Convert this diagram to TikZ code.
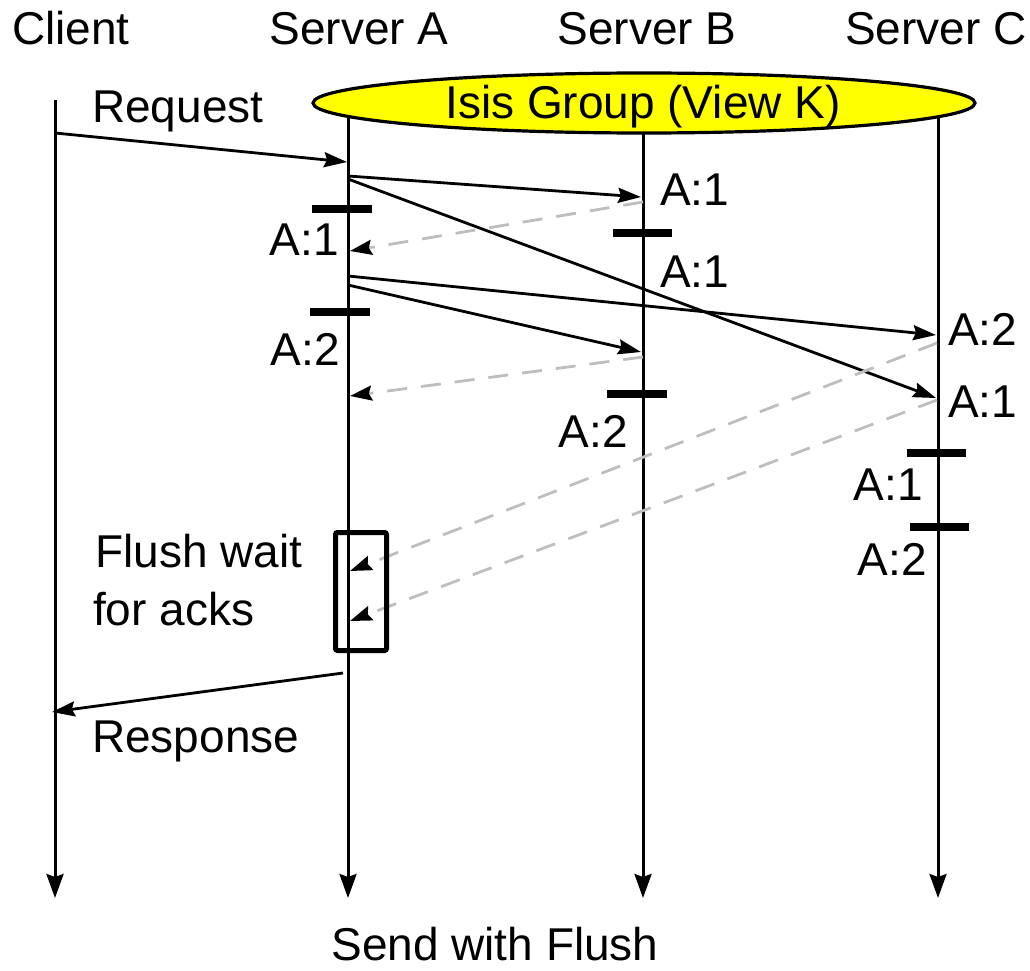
\documentclass[tikz,border=0pt]{standalone}
\usepackage{fontspec}
\setmainfont{Liberation Sans}
\usetikzlibrary{arrows.meta,shapes.geometric}
\definecolor{ackgray}{RGB}{190,190,190}
\definecolor{grpyellow}{RGB}{255,255,0}
\begin{document}
\begin{tikzpicture}[x=1pt,y=-1pt,
  lbl/.style={inner sep=0pt,font=\fontsize{46pt}{55pt}\selectfont},
  life/.style={line width=3pt,-{Stealth[length=24pt,width=17pt,inset=3pt]}},
  msg/.style={line width=2.8pt,-{Stealth[length=23pt,width=15pt,inset=3pt]}},
  ack/.style={line width=2.8pt,draw=ackgray,dash pattern=on 20pt off 14pt,
              -{Stealth[length=22pt,width=15pt,inset=3pt,color=black]}},
  tick/.style={line width=8pt},
  flushbox/.style={draw,line width=5pt,rounded corners=2pt,inner sep=0pt,
                   minimum width=51pt,minimum height=118pt}]
\useasboundingbox (0,0) rectangle (1030,971);

% headers
\node[lbl,anchor=base] (client) at (71,45) {Client};
\node[lbl,anchor=base] (sA) at (359,45) {Server A};
\node[lbl,anchor=base] (sB) at (647,45) {Server B};
\node[lbl,anchor=base] (sC) at (936,45) {Server C};

% lifelines
\coordinate (cT) at (55,100);  \coordinate (cE) at (55,898);
\coordinate (aT) at (348,103); \coordinate (aE) at (348,898);
\coordinate (bT) at (643,103); \coordinate (bE) at (643,898);
\coordinate (dT) at (938,103); \coordinate (dE) at (938,898);
\draw[life] (cT) -- (cE);
\draw[life] (aT) -- (aE);
\draw[life] (bT) -- (bE);
\draw[life] (dT) -- (dE);

% group ellipse
\node[ellipse,draw,fill=grpyellow,line width=3.2pt,inner sep=0pt,
      minimum width=662pt,minimum height=60pt] (grp) at (644,103) {};
\node[lbl,anchor=base] (grpl) at (643,118) {Isis Group (View K)};

% event points
\coordinate (req0) at (55,133);   \coordinate (req1) at (347,162);
\coordinate (a1s) at (348,176);   \coordinate (a1b) at (641,197);
\coordinate (a1s2) at (348,179);  \coordinate (a1c) at (936,398);
\coordinate (a2s) at (348,276);   \coordinate (a2c) at (936,335);
\coordinate (a2s2) at (348,285);  \coordinate (a2b) at (641,352);
\coordinate (res0) at (343,673);  \coordinate (res1) at (52,712);

% messages
\draw[msg] (req0) -- (req1);
\node[lbl,anchor=base west] (reql) at (92,123) {Request};
\draw[msg] (a1s) -- (a1b);
\draw[msg] (a1s2) -- (a1c);
\draw[msg] (a2s) -- (a2c);
\draw[msg] (a2s2) -- (a2b);

% acks
\coordinate (kb1) at (643,202); \coordinate (ka1) at (350,251);
\coordinate (kb2) at (643,357); \coordinate (ka2) at (350,396);
\coordinate (kc1) at (937,343); \coordinate (ka3) at (350,571);
\coordinate (kc2) at (937,400); \coordinate (ka4) at (350,621);
\draw[ack] (kb1) -- (ka1);
\draw[ack] (kb2) -- (ka2);
\draw[ack] (kc1) -- (ka3);
\draw[ack] (kc2) -- (ka4);

% delivery ticks
\draw[tick] (312,209) -- (372,209);
\draw[tick] (310,312) -- (370,312);
\draw[tick] (613,233) -- (672,233);
\draw[tick] (607,394) -- (667,394);
\draw[tick] (907,453) -- (966,453);
\draw[tick] (910,527) -- (969,527);

% labels
\node[lbl,anchor=base east] (la1) at (339,255) {A:1};
\node[lbl,anchor=base east] (la2) at (340,365) {A:2};
\node[lbl,anchor=base west] (lb1) at (660,205) {A:1};
\node[lbl,anchor=base west] (lb2) at (660,287) {A:1};
\node[lbl,anchor=base east] (lb3) at (628,447) {A:2};
\node[lbl,anchor=base west] (lc1) at (948,345) {A:2};
\node[lbl,anchor=base west] (lc2) at (948,417) {A:1};
\node[lbl,anchor=base east] (lc3) at (923,500) {A:1};
\node[lbl,anchor=base east] (lc4) at (927,575) {A:2};

% flush box
\node[flushbox] (flush) at (361,591.5) {};
\node[lbl,anchor=base west] (fl1) at (95,567) {Flush wait};
\node[lbl,anchor=base west] (fl2) at (93,625) {for acks};

% response
\draw[msg] (res0) -- (res1);
\node[lbl,anchor=base west] (resl) at (92,752) {Response};

\node[lbl,anchor=base] (cap) at (495,960) {Send with Flush};
\end{tikzpicture}
\end{document}
